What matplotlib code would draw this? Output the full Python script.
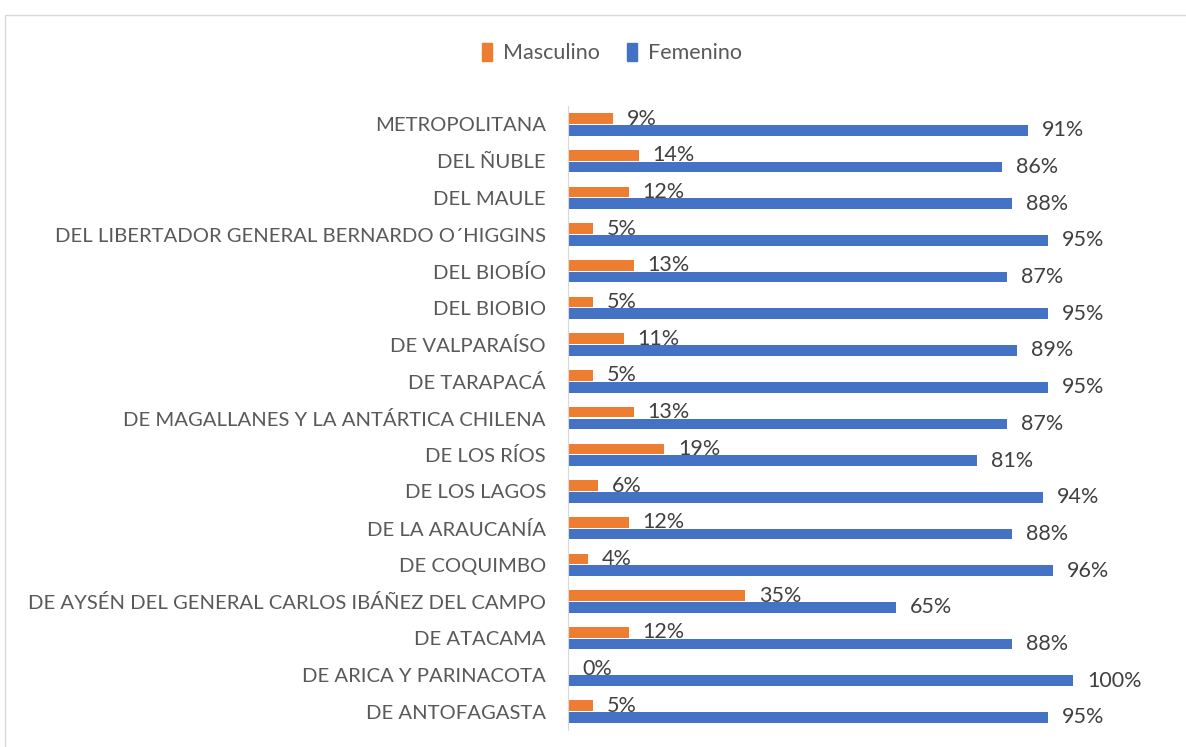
import matplotlib
matplotlib.use("Agg")
import matplotlib.pyplot as plt
from matplotlib.patches import Patch, Rectangle

plt.rcParams['font.family'] = ['Lato', 'DejaVu Sans']

# categories top to bottom as shown in the chart
regiones = [
    'METROPOLITANA',
    'DEL ÑUBLE',
    'DEL MAULE',
    'DEL LIBERTADOR GENERAL BERNARDO O´HIGGINS',
    'DEL BIOBÍO',
    'DEL BIOBIO',
    'DE VALPARAÍSO',
    'DE TARAPACÁ',
    'DE MAGALLANES Y LA ANTÁRTICA CHILENA',
    'DE LOS RÍOS',
    'DE LOS LAGOS',
    'DE LA ARAUCANÍA',
    'DE COQUIMBO',
    'DE AYSÉN DEL GENERAL CARLOS IBÁÑEZ DEL CAMPO',
    'DE ATACAMA',
    'DE ARICA Y PARINACOTA',
    'DE ANTOFAGASTA',
]
masculino = [9, 14, 12, 5, 13, 5, 11, 5, 13, 19, 6, 12, 4, 35, 12, 0, 5]
femenino = [91, 86, 88, 95, 87, 95, 89, 95, 87, 81, 94, 88, 96, 65, 88, 100, 95]

c_masc = '#ED7D31'
c_fem = '#4472C4'
txt = '#595959'

fig = plt.figure(figsize=(11.86, 7.47), dpi=100)
ax = fig.add_axes([568 / 1186, 0.0228, (1073 - 568) / 1186, 0.858 - 0.0228])

n = len(regiones)
ypos = [n - 1 - i for i in range(n)]
h = 0.29
off = 0.16

bm = ax.barh([y + off for y in ypos], masculino, height=h, color=c_masc)
bf = ax.barh([y - off for y in ypos], femenino, height=h, color=c_fem)

for bars, vals in ((bm, masculino), (bf, femenino)):
    for b, v in zip(bars, vals):
        ax.annotate(f'{v}%', (b.get_width(), b.get_y() + b.get_height() / 2),
                    xytext=(10, 0), textcoords='offset points',
                    ha='left', va='center', fontsize=15.5, color='#404040')

ax.set_xlim(0, 100)
ax.set_ylim(-0.5, 16.5)
ax.set_yticks(ypos)
ax.set_yticklabels(regiones, fontsize=14.6, color=txt)
ax.tick_params(axis='y', length=0, pad=16)
ax.set_xticks([])
for s in ['top', 'right', 'bottom']:
    ax.spines[s].set_visible(False)
ax.spines['left'].set_color('#D9D9D9')

handles = [Patch(color=c_masc, label='Masculino'), Patch(color=c_fem, label='Femenino')]
fig.legend(handles=handles, loc='center', bbox_to_anchor=(612 / 1186, 1 - 53 / 747),
           ncol=2, frameon=False, fontsize=15.5, handlelength=0.45, handleheight=0.9,
           handletextpad=0.5, columnspacing=1.3, labelcolor=txt)

fig.add_artist(Rectangle((5 / 1186, -0.05), 1.1, 1 - 15 / 747 + 0.05,
                         transform=fig.transFigure, fill=False,
                         edgecolor='#D9D9D9', linewidth=1))

fig.savefig('out.png', dpi=100)
